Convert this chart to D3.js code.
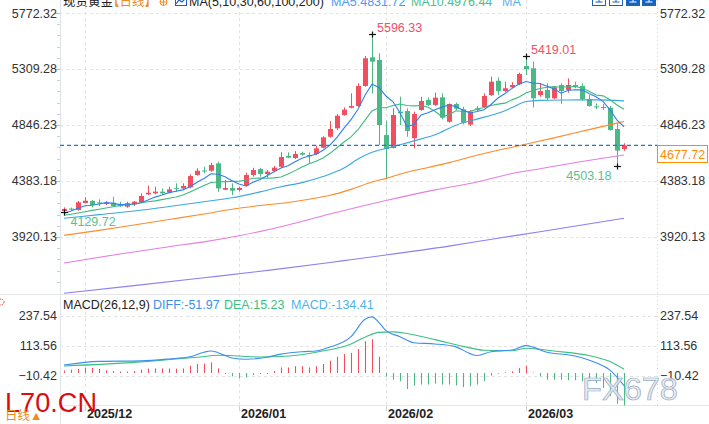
<!DOCTYPE html>
<html><head><meta charset="utf-8">
<script src="https://cdn.jsdelivr.net/npm/d3@7"></script>
<style>
html,body{margin:0;padding:0;background:#fff;overflow:hidden;}
svg{display:block;}
text{font-family:"Liberation Sans",Arial,"Noto Sans CJK SC",sans-serif;}
</style></head><body>
<svg id="c" width="709" height="424"></svg>
<script>
// ---------- DATA ----------
const openP = [4135,4155,4143,4201,4218,4206,4193,4204,4190,4171,
4190,4207,4273,4281,4295,4289,4324,4322,4331,4433,
4470,4468,4529,4311,4325,4309,4344,4433,4482,4441,
4466,4501,4590,4573,4615,4598,4606,4658,4749,4819,
4929,4989,5003,5169,5406,5384,4763,4656,4956,4962,
4738,4970,5053,5012,5075,4873,5020,4976,4850,4984,
4995,5094,5212,5127,5158,5183,5334,5315,5094,5136,
5067,5177,5136,5177,5169,5061,5000,4995,4989,4813,
4648];
const highP = [4165,4163,4218,4248,4226,4232,4218,4253,4212,4212,
4218,4281,4344,4336,4322,4336,4364,4364,4438,4488,
4501,4534,4543,4391,4364,4336,4452,4493,4493,4474,
4507,4620,4620,4631,4626,4620,4675,4753,4879,4937,
4992,5108,5191,5417,5596.33,5439,4882,4984,5080,4984,
4956,5080,5075,5113,5108,5025,5031,4997,4970,5003,
5108,5246,5240,5204,5200,5279,5419.01,5370,5191,5191,
5169,5191,5232,5204,5191,5094,5025,5020,5003,4860,
4695];
const lowP = [4129.72,4140,4138,4199,4165,4176,4185,4170,4170,4162,
4176,4199,4267,4273,4273,4281,4295,4314,4322,4427,
4447,4460,4295,4309,4267,4295,4336,4419,4419,4410,
4455,4493,4571,4565,4593,4530,4598,4653,4741,4805,
4923,4984,4997,5163,5108,4681,4397,4653,4846,4749,
4653,4964,5003,5005,4893,4865,4970,4852,4838,4956,
4989,5086,5094,5120,5150,5177,5260,4992,5080,5053,
5059,5020,5113,5150,5047,4997,4976,4972,4800,4503.18,
4633];
const closeP = [4152,4150,4207,4220,4185,4203,4204,4176,4174,4199,
4212,4259,4286,4295,4281,4314,4318,4342,4424,4468,
4466,4515,4322,4325,4303,4325,4433,4474,4441,4460,
4493,4582,4576,4606,4601,4587,4653,4744,4813,4923,
4973,5003,5169,5398,5370,4846,4648,4929,4943,4797,
4937,5045,5012,5072,4906,5020,4981,4865,4956,4970,
5086,5204,5127,5150,5177,5268,5307,5067,5127,5067,
5158,5127,5177,5163,5061,5003,4994,4990,4805,4634,
4677.72];
const ma5 = [4116,4135,4157,4178,4183,4193,4204,4198,4188,4191,
4193,4204,4226,4250,4267,4287,4299,4310,4336,4373,
4404,4443,4439,4419,4386,4358,4342,4372,4395,4427,
4460,4490,4510,4543,4572,4590,4605,4638,4680,4744,
4821,4891,4976,5093,5183,5157,5086,5038,4947,4833,
4851,4930,4947,4973,4994,5011,4998,4969,4946,4958,
4972,5016,5069,5107,5149,5185,5206,5194,5189,5167,
5145,5109,5131,5138,5137,5106,5080,5042,4971,4887,
4831.72];
const ma10 = [4100,4108,4118,4129,4140,4150,4160,4170,4180,4187,
4193,4204,4212,4219,4229,4240,4251,4268,4293,4320,
4345,4371,4375,4378,4380,4381,4392,4406,4407,4406,
4409,4416,4441,4469,4499,4525,4547,4574,4612,4658,
4706,4748,4807,4886,4963,4989,4989,5007,5020,5008,
5004,5008,4993,4960,4914,4931,4964,4958,4959,4976,
4991,5007,5019,5027,5054,5078,5111,5131,5148,5158,
5165,5158,5163,5164,5152,5126,5094,5087,5055,5012,
4976.44];
// [candle index, value]
const ma30 = [[0,4075],[5,4105],[10,4135],[15,4172],[20,4212],[24,4245],[28,4293],[31,4336],[34,4370],[37,4420],[40,4490],[42,4565],[44,4620],[47,4667],[50,4715],[53,4765],[56,4845],[59,4895],[62,4943],[64,4990],[66,5040],[68,5050],[72,5053],[76,5054],[80,5046]];
const ma60 = [[0,3934],[5,3975],[10,4020],[15,4065],[20,4110],[24,4150],[28,4180],[32,4205],[35,4232],[38,4265],[41,4314],[44,4375],[46,4405],[49,4455],[52,4495],[55,4535],[60,4610],[65,4675],[70,4740],[75,4808],[80,4875]];
const ma100 = [[0,3705],[8,3780],[15,3840],[20,3880],[25,3930],[32,4020],[38,4110],[46,4222],[53,4310],[59,4375],[64,4445],[68,4485],[74,4545],[80,4598]];
const ma200 = [[0,3455],[10,3518],[20,3583],[30,3650],[40,3725],[46,3771],[55,3845],[62,3910],[68,3964],[74,4020],[80,4075]];
const diffLine = [[0,33],[5,48],[11,50],[15,58],[18,67],[20,86],[21,91],[22,84],[24,62],[26,57],[29,65],[31,78],[34,88],[36,91],[38,107],[41,150],[43,222],[44,232],[45,208],[46,175],[48,150],[50,125],[53,120],[56,108],[58,80],[59,72],[61,88],[64,95],[66,113],[69,86],[73,70],[76,42],[78,12],[80,-51.97]];
const deaLine = [[0,29],[10,44],[19,65],[22,73],[25,70],[28,66],[31,68],[36,86],[41,120],[43,148],[45,168],[47,170],[49,163],[53,138],[57,110],[60,94],[64,92],[66,102],[68,98],[70,91],[75,72],[78,47],[80,15.23]];
const macdHist = [10,14,17,21,21,17,11,8,6,6,
8,14,18,19,19,19,18,19,30,37,
39,44,19,-4,-14,-22,-18,-8,-4,-4,
8,23,23,28,28,23,28,37,51,67,
79,83,99,131,140,67,-14,-28,-34,-66,
-52,-48,-48,-44,-48,-48,-52,-58,-55,-48,
-34,-11,-3,3,7,21,30,2,-14,-28,
-28,-28,-30,-30,-34,-34,-41,-62,-96,-127,
-134.41];
const priceTicks = [3920.13,4383.18,4846.23,5309.28,5772.32];
const macdTicks = [-10.42,113.56,237.54];
const monthLabels = ["2025/12","2026/01","2026/02","2026/03"];
const monthStart = [3,25,46,66];
const markIdx = [44,66,79,0];
const markKind = ["high","high","low","low"];

// ---------- DRAW ----------
const svg = d3.select("#c");
const n = closeP.length;
const L = 60, R = 657;
const x = d3.scaleLinear().domain([0, n-1]).range([64, 624]);
const y = d3.scaleLinear().domain([3457.08, 5772.32]).range([293, 13]);
const ym = d3.scaleLinear().domain([-134.41, 322.3]).range([405.5, 295]);
const UP = "#ef4f5f", DN = "#4cb886";

svg.append("rect").attr("width",709).attr("height",424).attr("fill","#fff");

const defs = svg.append("defs");
defs.append("clipPath").attr("id","cm").append("rect").attr("x",L).attr("y",0).attr("width",R-L).attr("height",294);
defs.append("clipPath").attr("id","cd").append("rect").attr("x",L).attr("y",295).attr("width",R-L).attr("height",111);

// grid
const grid = svg.append("g").attr("stroke","#e3e3e3").attr("stroke-dasharray","3,3");
grid.selectAll(".hg").data(priceTicks).join("line")
  .attr("x1",L).attr("x2",R).attr("y1",d=>Math.round(y(d))+0.5).attr("y2",d=>Math.round(y(d))+0.5);
grid.selectAll(".hm").data(macdTicks).join("line")
  .attr("x1",L).attr("x2",R).attr("y1",d=>Math.round(ym(d))+0.5).attr("y2",d=>Math.round(ym(d))+0.5);
grid.selectAll(".vg").data(monthStart).join("line")
  .attr("x1",d=>x(d)+0.5).attr("x2",d=>x(d)+0.5).attr("y1",0).attr("y2",405);
svg.append("line").attr("x1",R+0.5).attr("x2",R+0.5).attr("y1",0).attr("y2",405)
  .attr("stroke","#d8d8d8").attr("stroke-dasharray","1,3");

// frame lines
svg.append("line").attr("x1",L+0.5).attr("x2",L+0.5).attr("y1",0).attr("y2",424).attr("stroke","#dde4ec");
svg.append("line").attr("x1",0).attr("x2",709).attr("y1",294.5).attr("y2",294.5).attr("stroke","#e6e6e6");
svg.append("line").attr("x1",L).attr("x2",709).attr("y1",405.5).attr("y2",405.5).attr("stroke","#e6e6e6");
svg.selectAll(".xt").data(monthStart).join("line")
  .attr("x1",d=>x(d)+0.5).attr("x2",d=>x(d)+0.5).attr("y1",406).attr("y2",411).attr("stroke","#d0d0d0");

// minor ticks left axis
const minor = d3.range(0, 26).map(k => 13 + k*11.2).filter(v => v < 293);
svg.selectAll(".mt").data(minor).join("line")
  .attr("x1",57).attr("x2",60).attr("y1",d=>Math.round(d)+0.5).attr("y2",d=>Math.round(d)+0.5)
  .attr("stroke","#cfcfcf");
svg.selectAll(".mjt").data(priceTicks).join("line")
  .attr("x1",55).attr("x2",60).attr("y1",d=>Math.round(y(d))+0.5).attr("y2",d=>Math.round(y(d))+0.5)
  .attr("stroke","#9cc3e6");

// axes
function styleAxis(g){
  g.select(".domain").remove();
  g.selectAll("text").attr("font-size","12.5px").attr("fill","#333")
   .attr("font-family",'"Liberation Sans",Arial,sans-serif');
}
svg.append("g").attr("transform",`translate(${L},0)`)
  .call(d3.axisLeft(y).tickValues(priceTicks).tickSize(0).tickPadding(3).tickFormat(d3.format(".2f"))).call(styleAxis);
svg.append("g").attr("transform",`translate(${R},0)`)
  .call(d3.axisRight(y).tickValues(priceTicks).tickSize(0).tickPadding(3).tickFormat(d3.format(".2f"))).call(styleAxis);
svg.append("g").attr("transform",`translate(${L},0)`)
  .call(d3.axisLeft(ym).tickValues(macdTicks).tickSize(0).tickPadding(3).tickFormat(d3.format(".2f"))).call(styleAxis);
svg.append("g").attr("transform",`translate(${R},0)`)
  .call(d3.axisRight(ym).tickValues(macdTicks).tickSize(0).tickPadding(3).tickFormat(d3.format(".2f"))).call(styleAxis);

// x labels
svg.selectAll(".xl").data(monthLabels).join("text")
  .attr("x",(d,i)=>x(monthStart[i])+2).attr("y",418)
  .attr("font-size","12.5px").attr("font-weight","bold").attr("fill","#222").text(d=>d);

// main chart
const gm = svg.append("g").attr("clip-path","url(#cm)");
const idx = d3.range(n);
gm.selectAll(".wk").data(idx).join("line")
  .attr("x1",i=>x(i)+0.5).attr("x2",i=>x(i)+0.5)
  .attr("y1",i=>y(highP[i])).attr("y2",i=>y(lowP[i]))
  .attr("stroke",i=>closeP[i]>=openP[i]?UP:DN).attr("stroke-width",1);
gm.selectAll(".bd").data(idx).join("rect")
  .attr("x",i=>x(i)-2).attr("width",5)
  .attr("y",i=>y(Math.max(openP[i],closeP[i])))
  .attr("height",i=>Math.max(1, Math.abs(y(openP[i])-y(closeP[i]))))
  .attr("fill",i=>closeP[i]>=openP[i]?UP:DN);

const lineP = d3.line().x(d=>x(d[0])).y(d=>y(d[1]));
const lineS = d3.line().x(d=>x(d[0])).y(d=>y(d[1])).curve(d3.curveMonotoneX);
const series = [
  {d:ma200, c:"#8b80f5", g:lineS},
  {d:ma100, c:"#e57ee0", g:lineS},
  {d:ma60, c:"#ff8a2a", g:lineS},
  {d:ma30, c:"#3aa8e0", g:lineS},
  {d:ma10.map((v,i)=>[i,v]), c:"#3dbb7e", g:lineP},
  {d:ma5.map((v,i)=>[i,v]), c:"#2f80ed", g:lineP}
];
gm.selectAll(".ma").data(series).join("path")
  .attr("d",s=>s.g(s.d)).attr("fill","none").attr("stroke",s=>s.c).attr("stroke-width",1.1);

// last price line
const lp = closeP[n-1];
svg.append("line").attr("x1",L).attr("x2",R).attr("y1",y(lp)).attr("y2",y(lp))
  .attr("stroke","#1976e0").attr("stroke-width",1.3).attr("stroke-dasharray","4,3");
svg.append("rect").attr("x",657.5).attr("y",Math.round(y(lp))+0.5).attr("width",50).attr("height",17)
  .attr("fill","#fff").attr("stroke","#ff8c00");
svg.append("text").attr("x",660).attr("y",Math.round(y(lp))+13.5).attr("font-size","12.5px")
  .attr("fill","#ff8c00").text(lp.toFixed(2));

// high / low marks
const marks = markIdx.map((i,k)=>({i, kind:markKind[k], v: markKind[k]==="high"?highP[i]:lowP[i]}));
const gk = svg.append("g");
marks.forEach(m=>{
  const cx = x(m.i)+0.5, cy = Math.round(y(m.v))+0.5;
  gk.append("line").attr("x1",cx-3.5).attr("x2",cx+3.5).attr("y1",cy).attr("y2",cy).attr("stroke","#111").attr("stroke-width",1.2);
  gk.append("line").attr("x1",cx).attr("x2",cx).attr("y1",cy-3).attr("y2",cy+3).attr("stroke","#111").attr("stroke-width",1.2);
  const t = gk.append("text").attr("font-size","12.5px").text(m.v.toFixed(2));
  if(m.kind==="high"){
    t.attr("x",cx+4.5).attr("y",cy-3).attr("fill","#f0506a");
  } else if(m.i > n/2){
    t.attr("x",cx-6).attr("y",cy+13.5).attr("text-anchor","end").attr("fill","#5cbf8f");
  } else {
    t.attr("x",cx+6).attr("y",cy+13.5).attr("fill","#5cbf8f");
  }
});

// MACD
const gd = svg.append("g").attr("clip-path","url(#cd)");
gd.selectAll(".hb").data(idx).join("line")
  .attr("x1",i=>x(i)+0.5).attr("x2",i=>x(i)+0.5)
  .attr("y1",ym(0)).attr("y2",i=>ym(macdHist[i]))
  .attr("stroke",i=>macdHist[i]>=0?UP:DN).attr("stroke-width",1.1);
const lineM = d3.line().x(d=>x(d[0])).y(d=>ym(d[1])).curve(d3.curveMonotoneX);
gd.append("path").attr("d",lineM(deaLine)).attr("fill","none").attr("stroke","#3cc080").attr("stroke-width",1.1);
gd.append("path").attr("d",lineM(diffLine)).attr("fill","none").attr("stroke","#3b8ff0").attr("stroke-width",1.1);

// titles
const t1 = [
  {x:63, t:"现货黄金", c:"#222"},
  {x:107, t:"【日线】", c:"#f08a1c"},
  {x:189, t:"MA(5,10,30,60,100,200)", c:"#222"},
  {x:331, t:"MA5:"+ma5[n-1].toFixed(2), c:"#4a9af0"},
  {x:411, t:"MA10:"+ma10[n-1].toFixed(2), c:"#4cc08a"},
  {x:502, t:"MA", c:"#5ab0ee"}
];
svg.selectAll(".t1").data(t1).join("text")
  .attr("x",d=>d.x).attr("y",6).attr("font-size","12.5px").attr("fill",d=>d.c).text(d=>d.t);
svg.append("circle").attr("cx",163.5).attr("cy",2).attr("r",3.5).attr("fill","none").attr("stroke","#f08a1c");
svg.append("line").attr("x1",160).attr("x2",167).attr("y1",2).attr("y2",2).attr("stroke","#f08a1c");
svg.append("line").attr("x1",163.5).attr("x2",163.5).attr("y1",-2).attr("y2",5.5).attr("stroke","#f08a1c");
svg.append("rect").attr("x",175.5).attr("y",-5.5).attr("width",11).attr("height",11).attr("fill","#fff").attr("stroke","#1f5fbf");
svg.append("polyline").attr("points","176,4 179,0 182,2 186,-2").attr("fill","none").attr("stroke","#1f5fbf").attr("stroke-width",1.2);

// top-right icons
[[592.5,false],[609.5,false],[626.5,true],[642.5,true]].forEach(([ix,f])=>{
  svg.append("rect").attr("x",ix).attr("y",-7.5).attr("width",13).attr("height",13)
    .attr("fill",f?"#1565c0":"#fff").attr("stroke","#1565c0");
  svg.append("line").attr("x1",ix+3).attr("x2",ix+10).attr("y1",2).attr("y2",2).attr("stroke",f?"#fff":"#1565c0");
  svg.append("line").attr("x1",ix+6.5).attr("x2",ix+6.5).attr("y1",-5).attr("y2",2).attr("stroke",f?"#fff":"#1565c0");
});

const t2 = [
  {x:63, t:"MACD(26,12,9)", c:"#222"},
  {x:153, t:"DIFF:"+diffLine[diffLine.length-1][1].toFixed(2), c:"#3b8ff0"},
  {x:224, t:"DEA:"+deaLine[deaLine.length-1][1].toFixed(2), c:"#3cc080"},
  {x:291, t:"MACD:"+macdHist[n-1].toFixed(2), c:"#4fb2ea"}
];
svg.selectAll(".t2").data(t2).join("text")
  .attr("x",d=>d.x).attr("y",308.5).attr("font-size","12.5px").attr("fill",d=>d.c).text(d=>d.t);

// small settings icon left
svg.append("circle").attr("cx",1).attr("cy",302).attr("r",3).attr("fill","none").attr("stroke","#e04040").attr("stroke-dasharray","1.5,1");

// watermarks
svg.append("text").attr("x",582).attr("y",400).attr("font-size","31px")
  .attr("textLength",96).attr("lengthAdjust","spacingAndGlyphs")
  .attr("fill","#e2e9f2").attr("fill-opacity",0.9).attr("stroke","#9aabc4").attr("stroke-width",0.7).text("FX678");
svg.append("text").attr("x",5).attr("y",412).attr("font-size","27px")
  .attr("textLength",92).attr("lengthAdjust","spacingAndGlyphs")
  .attr("fill","#d80e0e").text("L70.CN");
svg.append("text").attr("x",5).attr("y",420).attr("font-size","12.5px")
  .attr("font-family",'"Noto Sans CJK SC",sans-serif').attr("fill","#f08a1c").text("日线▲");
</script>
</body></html>
